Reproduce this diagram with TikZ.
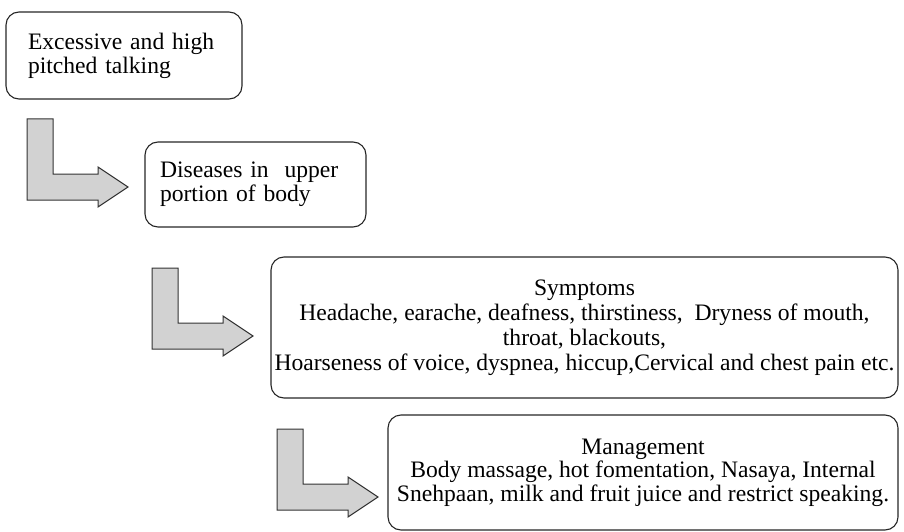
\documentclass[tikz,border=0pt]{standalone}
\usepackage{fontspec}
\setmainfont{Liberation Serif}
\begin{document}
\begin{tikzpicture}[x=1pt,y=-1pt,
  stagebox/.style={draw=black!85, line width=1.1pt, rounded corners=13pt,
    inner sep=0pt, font=\fontsize{23.6pt}{24pt}\selectfont},
  leftbox/.style={stagebox, align=left},
  centerbox/.style={stagebox, align=center},
  arrowbody/.style={draw=black!80, line width=1pt, fill=gray!35, line join=miter},
  bentarrow/.pic={
    \path[arrowbody] (0,0) -- (26,0) -- (26,55) -- (71,55) -- (71,48)
      -- (101,68) -- (71,88) -- (71,81) -- (0,81) -- cycle;
  }]
\useasboundingbox (0,0) rectangle (904,532);

% stage boxes
\node[leftbox, minimum width=236pt, minimum height=87pt, text width=192pt]
  (talk) at (124,55.5) {Excessive and high\\pitched talking};
\node[leftbox, minimum width=221pt, minimum height=85pt, text width=191pt]
  (disease) at (255.5,184.5) {Diseases in~~upper\\portion of body};
\node[centerbox, minimum width=627pt, minimum height=141pt,
  font=\fontsize{23.6pt}{25pt}\selectfont]
  (symptoms) at (584.5,327.5) {Symptoms\\
  Headache, earache, deafness, thirstiness,~~Dryness of mouth,\\
  throat, blackouts,\\
  Hoarseness of voice, dyspnea, hiccup,Cervical and chest pain etc.};
\node[centerbox, minimum width=510pt, minimum height=115pt,
  font=\fontsize{23.6pt}{23.5pt}\selectfont]
  (manage) at (643,472.5) {Management\\
  Body massage, hot fomentation, Nasaya, Internal\\
  Snehpaan, milk and fruit juice and restrict speaking.};

% bent block arrows between the stages
\coordinate (arrowA) at (27,119);
\coordinate (arrowB) at (152,268);
\coordinate (arrowC) at (277,429);
\pic at (arrowA) {bentarrow};
\pic at (arrowB) {bentarrow};
\pic at (arrowC) {bentarrow};
\end{tikzpicture}
\end{document}
